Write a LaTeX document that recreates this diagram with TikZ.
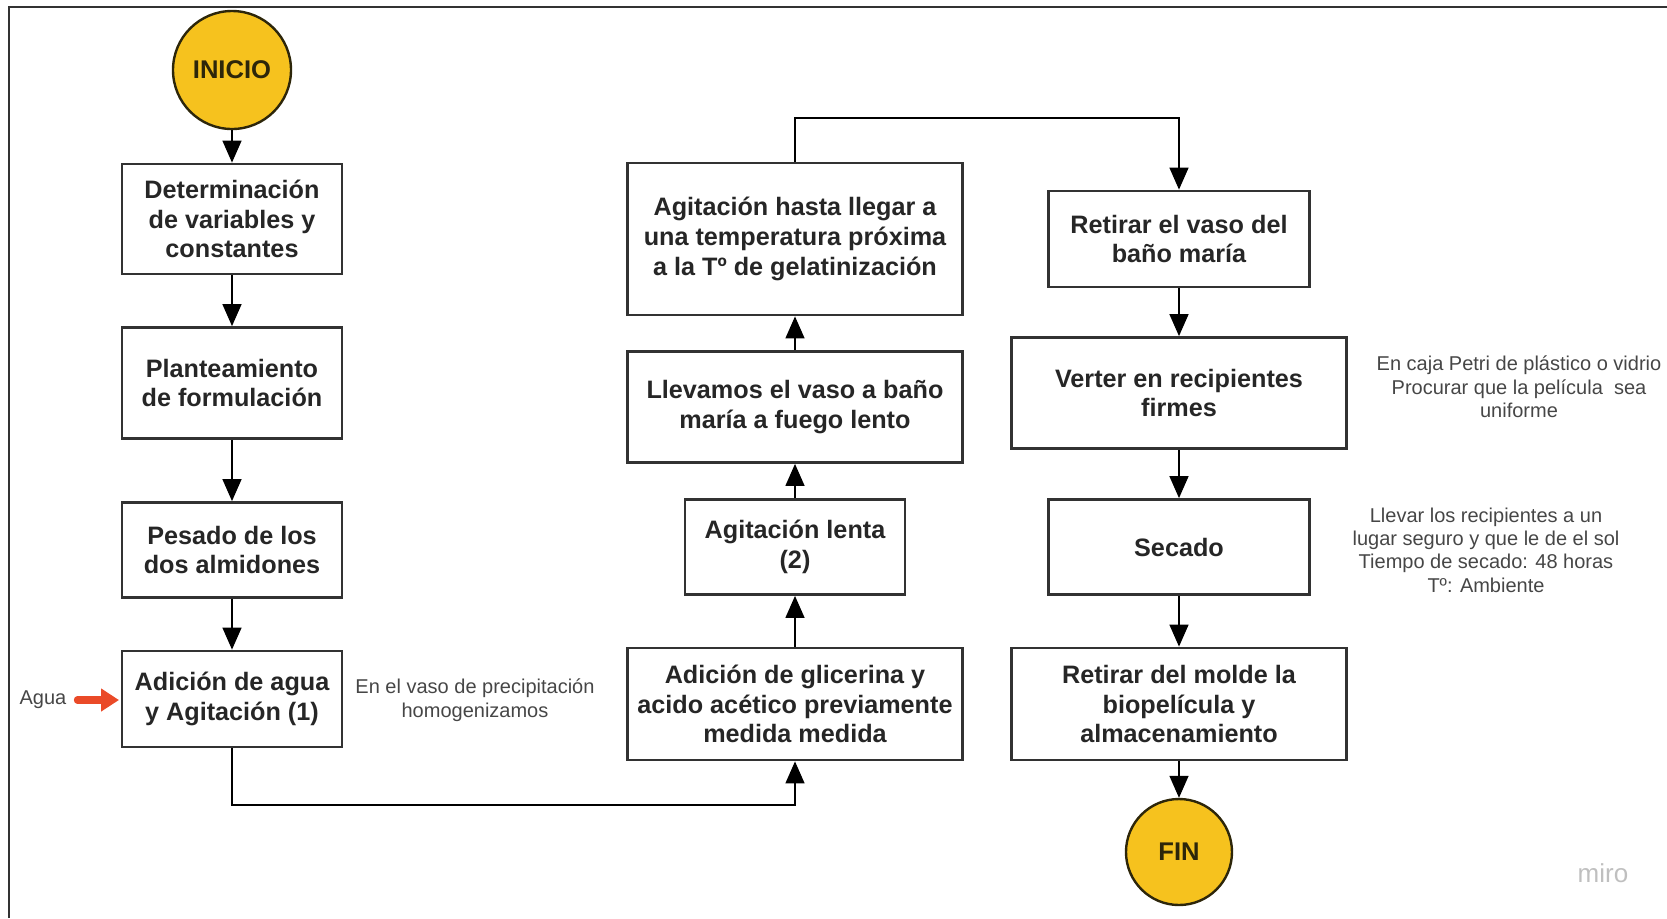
\documentclass[tikz,border=0pt]{standalone}
\usepackage{fontspec}
\setmainfont{Liberation Sans}
\usepackage{tikz}
\usetikzlibrary{arrows.meta,positioning}
\definecolor{yellow}{RGB}{246, 194, 30}
\definecolor{darkline}{RGB}{45, 38, 10}
\definecolor{boxline}{RGB}{50, 50, 50}
\definecolor{orangered}{RGB}{234, 74, 40}
\definecolor{notegray}{RGB}{70, 70, 70}
\tikzstyle{terminal} = [circle, draw=darkline, line width=1.2pt, fill=yellow, text=darkline, text centered, font=\bfseries\fontsize{12.8}{15}\selectfont, inner sep=0pt]
\tikzstyle{box} = [rectangle, draw=boxline, line width=1.4pt, fill=white, text=black!85, align=center, font=\bfseries\fontsize{12.6}{14.8}\selectfont, inner sep=2pt]
\tikzstyle{note} = [draw=none, fill=none, align=center, text=notegray, font=\fontsize{10}{11.7}\selectfont]
\tikzstyle{tedge} = [draw, line width=0.7pt, -{Triangle[width=9.5pt,length=11pt]}]

\begin{document}
\begin{tikzpicture}[x=0.5pt, y=-0.5pt]

\useasboundingbox (0,0) rectangle (1667,918);
\draw[boxline, line width=1pt] (9,918) -- (9,7) -- (1667,7);

% first column ===========================
\node[terminal, minimum size=59pt] (inicio) at (232,70) {INICIO};
\node[box, minimum width=110pt, minimum height=55pt] (det) at (232,219) {Determinación\\ de variables y\\ constantes};
\node[box, minimum width=110pt, minimum height=55.5pt] (plan) at (232,383) {Planteamiento\\ de formulación};
\node[box, minimum width=110pt, minimum height=47.5pt] (pesado) at (232,550) {Pesado de los\\ dos almidones};
\node[box, minimum width=110pt, minimum height=48pt] (agua) at (232,699) {Adición de agua\\ y Agitación (1)};

% second column ==========================
\node[box, minimum width=167.5pt, minimum height=56pt] (glic) at (795,704) {Adición de glicerina y\\ acido acético previamente\\ medida medida};
\node[box, minimum width=110pt, minimum height=47.5pt] (lenta) at (795,547) {Agitación lenta\\ (2)};
\node[box, minimum width=167.5pt, minimum height=55.5pt] (bano) at (795,407) {Llevamos el vaso a baño\\ maría a fuego lento};
\node[box, minimum width=167.5pt, minimum height=76pt] (temp) at (795,239) {Agitación hasta llegar a\\ una temperatura próxima\\ a la Tº de gelatinización};

% third column ===========================
\node[box, minimum width=130.5pt, minimum height=48pt] (retirar) at (1179,239) {Retirar el vaso del\\ baño maría};
\node[box, minimum width=167.5pt, minimum height=55.5pt] (verter) at (1179,393) {Verter en recipientes\\ firmes};
\node[box, minimum width=130.5pt, minimum height=47.5pt] (secado) at (1179,547) {Secado};
\node[box, minimum width=167.5pt, minimum height=56pt] (molde) at (1179,704) {Retirar del molde la\\ biopelícula y\\ almacenamiento};
\node[terminal, minimum size=53pt] (fin) at (1179,852) {FIN};

% text only ==============================
\node[note] (aguatxt) at (43,700) {Agua};
\coordinate (aguaend) at (119,700);
\node[note] (vaso) at (475,700) {En el vaso de precipitación\\ homogenizamos};
\node[note] (petri) at (1519,387) {En caja Petri de plástico o vidrio\\ Procurar que la película\ \ sea\\ uniforme};
\node[note] (sol) at (1486,550) {Llevar los recipientes a un\\ lugar seguro y que le de el sol\\ Tiempo de secado: 48 horas\\ Tº: Ambiente};
\node[note, text=black!25, font=\fontsize{13}{15}\selectfont] (miro) at (1603,873) {miro};

% edges ==================================
\path[tedge] (inicio) -- (det);
\path[tedge] (det) -- (plan);
\path[tedge] (plan) -- (pesado);
\path[tedge] (pesado) -- (agua);
\path[draw, orangered, line width=3.6pt, line cap=round, -{Triangle[width=11pt,length=9pt]}] (aguatxt.east) ++(2pt,0) -- (aguaend);

\coordinate (low) at (232,805);
\path[tedge] (agua.south) -- (low) -| (glic.south);
\path[tedge] (glic) -- (lenta);
\path[tedge] (lenta) -- (bano);
\path[tedge] (bano) -- (temp);

\coordinate (high) at (795,118);
\path[tedge] (temp.north) -- (high) -| (retirar.north);
\path[tedge] (retirar) -- (verter);
\path[tedge] (verter) -- (secado);
\path[tedge] (secado) -- (molde);
\path[tedge] (molde) -- (fin);

\end{tikzpicture}
\end{document}
